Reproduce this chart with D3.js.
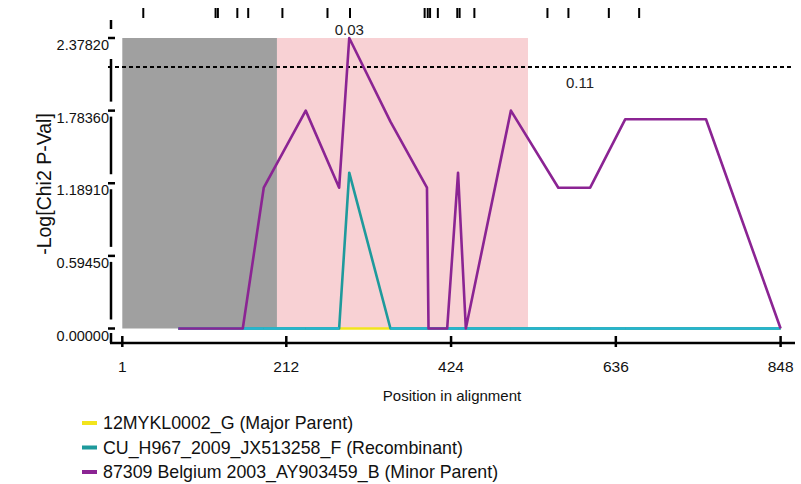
<!DOCTYPE html>
<html><head><meta charset="utf-8">
<script src="https://cdn.jsdelivr.net/npm/d3@7"></script>
<style>
html,body{margin:0;padding:0;background:#fff;}
svg{display:block;font-family:"Liberation Sans",Arial,sans-serif;}
</style></head>
<body>
<svg id="chart" width="801" height="484"></svg>
<script>
// ---- data ----
const positions   = [73, 156, 183, 237, 280, 293, 346, 393, 395, 419, 433, 443, 501, 562, 603, 648, 752, 848];
const minorParent = [0, 0, 1.1527, 1.7836, 1.1527, 2.3782, 1.693, 1.1527, 0, 0, 1.2755, 0, 1.7836, 1.1527, 1.1527, 1.7127, 1.7127, 0];
const recombinant = [0, 0, 0, 0, 0, 1.2755, 0, 0, 0, 0, 0, 0, 0, 0, 0, 0, 0, 0];
const majorParent = [0, 0, 0, 0, 0, 0, 0, 0, 0, 0, 0, 0, 0, 0, 0, 0, 0, 0];
const informativeSites = [28, 121, 124, 149, 163, 207, 265, 294, 390, 394, 397, 407, 432, 435, 454, 548, 575, 627, 666];
const xTicks = [1, 212, 424, 636, 848];
const yTicks = [0, 0.5945, 1.1891, 1.7836, 2.3782];
const yTickLabels = ["0.00000", "0.59450", "1.18910", "1.78360", "2.37820"];
const greyRegion = [1, 200];
const pinkRegion = [200, 523];
const threshold = 2.1408;
const peakLabels = [{pos: 293, val: 2.3782, text: "0.03"}];
const thresholdLabel = {pos: 590, text: "0.11"};
const seriesNames = ["12MYKL0002_G (Major Parent)", "CU_H967_2009_JX513258_F (Recombinant)", "87309 Belgium 2003_AY903459_B (Minor Parent)"];
const seriesColors = ["#f2e41c", "#1e9a9c", "#8b2493"];
const zeroColor = "#25b4d2";

// ---- scales ----
const x = d3.scaleLinear().domain([1, 848]).range([122.3, 780.6]);
const y = d3.scaleLinear().domain([0, 2.3782]).range([328.5, 38]);
const svg = d3.select("#chart");

// regions
svg.append("rect").attr("x", x(greyRegion[0])).attr("width", x(greyRegion[1]) - x(greyRegion[0]))
  .attr("y", y(2.3782)).attr("height", y(0) - y(2.3782)).attr("fill", "#a0a0a0");
svg.append("rect").attr("x", x(pinkRegion[0])).attr("width", x(pinkRegion[1]) - x(pinkRegion[0]))
  .attr("y", y(2.3782)).attr("height", y(0) - y(2.3782)).attr("fill", "#f8d1d4");

// threshold dashed line
svg.append("line").attr("x1", 108).attr("x2", 793).attr("y1", y(threshold)).attr("y2", y(threshold))
  .attr("stroke", "#000").attr("stroke-width", 2).attr("stroke-dasharray", "4,3");

// lines
const pts = vals => positions.map((p, i) => [p, vals[i]]);
const line = d3.line().x(d => x(d[0])).y(d => y(d[1]));
const g = svg.append("g").attr("fill", "none").attr("stroke-width", 2.6).attr("stroke-linejoin", "round");
g.append("path").attr("d", line(pts(majorParent))).attr("stroke", seriesColors[0]);
g.append("path").attr("d", line(pts(recombinant))).attr("stroke", seriesColors[1]);
// zero-run of the recombinant drawn lighter
const rec = pts(recombinant);
for (let i = 0; i < rec.length - 1; i++) {
  if (rec[i][1] === 0 && rec[i + 1][1] === 0) {
    g.append("path").attr("d", line([rec[i], rec[i + 1]])).attr("stroke", zeroColor);
  }
}
g.append("path").attr("d", line(pts(minorParent))).attr("stroke", seriesColors[2]);

// informative sites
svg.append("g").selectAll("line").data(informativeSites).join("line")
  .attr("x1", d => x(d)).attr("x2", d => x(d)).attr("y1", 8).attr("y2", 18)
  .attr("stroke", "#000").attr("stroke-width", 2);

// labels
svg.selectAll(".pk").data(peakLabels).join("text").attr("class", "pk")
  .attr("x", d => x(d.pos)).attr("y", d => y(d.val) - 3).attr("text-anchor", "middle")
  .attr("font-size", 15).attr("fill", "#222").text(d => d.text);
svg.append("text").attr("x", x(thresholdLabel.pos)).attr("y", y(threshold) + 21)
  .attr("text-anchor", "middle").attr("font-size", 15).attr("fill", "#222").text(thresholdLabel.text);

// y axis (broken line with ticks)
const axX = 111;
const ya = svg.append("g").attr("stroke", "#000").attr("stroke-width", 2.5);
const segs = [[20, 29]];
const sorted = yTicks.slice().sort((a, b) => b - a);
for (let i = 0; i < sorted.length - 1; i++) {
  const top = y(sorted[i]) + (i === 0 ? 21 : 6);
  const bot = y(sorted[i + 1]) - 9;
  segs.push([top, bot]);
}
segs.push([y(0) + 4.5, 343]);
ya.selectAll("line.seg").data(segs).join("line").attr("class", "seg")
  .attr("x1", axX).attr("x2", axX).attr("y1", d => d[0]).attr("y2", d => d[1]);
ya.selectAll("line.tk").data(yTicks).join("line").attr("class", "tk")
  .attr("x1", axX - 3).attr("x2", axX + 4).attr("y1", d => y(d)).attr("y2", d => y(d));
svg.append("g").selectAll("text").data(yTicks).join("text")
  .attr("x", 109).attr("y", d => y(d) + 12).attr("text-anchor", "end")
  .attr("font-size", 14.5).attr("fill", "#111").text((d, i) => yTickLabels[i]);
svg.append("text").attr("transform", "translate(51,184) rotate(-90)").attr("text-anchor", "middle")
  .attr("font-size", 19.5).attr("fill", "#111").text("-Log[Chi2 P-Val]");

// x axis
const xa = svg.append("g").attr("stroke", "#000").attr("stroke-width", 2.5);
xa.append("line").attr("x1", axX - 1).attr("x2", 795).attr("y1", 343).attr("y2", 343);
xa.selectAll("line.tk").data(xTicks).join("line").attr("class", "tk")
  .attr("x1", d => x(d)).attr("x2", d => x(d)).attr("y1", 336).attr("y2", 347);
svg.append("g").selectAll("text").data(xTicks).join("text")
  .attr("x", d => x(d)).attr("y", 372).attr("text-anchor", "middle")
  .attr("font-size", 15.5).attr("fill", "#111").text(d => d);
svg.append("text").attr("x", 452).attr("y", 401).attr("text-anchor", "middle")
  .attr("font-size", 15).attr("fill", "#111").text("Position in alignment");

// legend
const leg = svg.append("g").selectAll("g").data(seriesNames).join("g")
  .attr("transform", (d, i) => `translate(0,${423 + i * 24.5})`);
leg.append("rect").attr("x", 82).attr("y", -2).attr("width", 15).attr("height", 4)
  .attr("fill", (d, i) => seriesColors[i]);
leg.append("text").attr("x", 103).attr("y", 6).attr("font-size", 17.8).attr("fill", "#111").text(d => d);
</script>
</body></html>
